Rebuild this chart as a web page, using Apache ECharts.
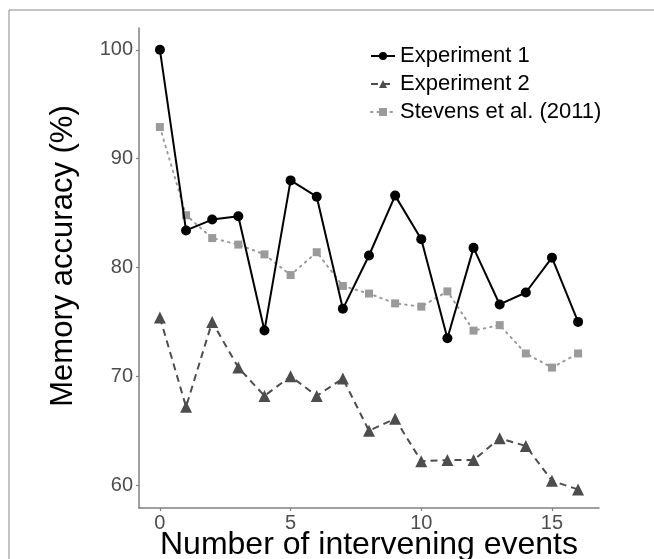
<!DOCTYPE html>
<html>
<head>
<meta charset="utf-8">
<script src="https://cdn.jsdelivr.net/npm/echarts@6/dist/echarts.min.js"></script>
<style>
html,body{margin:0;padding:0;background:#fff;}
#c{width:654px;height:559px;}
</style>
</head>
<body>
<div id="c"></div>
<script>
const events = [0,1,2,3,4,5,6,7,8,9,10,11,12,13,14,15,16];
const experiment1 = [100, 83.4, 84.4, 84.7, 74.2, 88.0, 86.5, 76.2, 81.1, 86.6, 82.6, 73.5, 81.8, 76.6, 77.7, 80.9, 75.0];
const experiment2 = [75.4, 67.2, 75.0, 70.8, 68.2, 70.0, 68.2, 69.8, 65.0, 66.1, 62.2, 62.3, 62.3, 64.3, 63.6, 60.4, 59.6];
const stevens = [92.9, 84.8, 82.7, 82.1, 81.2, 79.3, 81.4, 78.3, 77.6, 76.7, 76.4, 77.8, 74.2, 74.7, 72.1, 70.8, 72.1];
const xTicks = [0, 5, 10, 15];
const yTicks = [60, 70, 80, 90, 100];
const seriesNames = ['Experiment 1', 'Experiment 2', 'Stevens et al. (2011)'];

const pairs = arr => events.map((x, i) => [x, arr[i]]);
const font = '"Liberation Sans", Arial, Helvetica, sans-serif';

const chart = echarts.init(document.getElementById('c'), null, {renderer: 'canvas'});
chart.setOption({
  animation: false,
  backgroundColor: '#fff',
  textStyle: {fontFamily: font},
  graphic: [{
    type: 'rect', silent: true, z: -1,
    shape: {x: 9, y: 10, width: 700, height: 600},
    style: {fill: 'none', stroke: '#8a8a8a', lineWidth: 1}
  }],
  grid: {left: 139, right: 55, top: 28, bottom: 51, containLabel: false, outerBoundsMode: 'none'},
  legend: {
    orient: 'vertical', left: 365, top: 40,
    itemWidth: 24, itemHeight: 10, itemGap: 6,
    textStyle: {fontSize: 22, color: '#000', fontFamily: font, lineHeight: 22},
    data: seriesNames
  },
  xAxis: {
    type: 'value', min: -0.8, max: 16.8,
    name: 'Number of intervening events', nameLocation: 'middle', nameGap: 21,
    nameMoveOverlap: false,
    nameTextStyle: {fontSize: 32, color: '#000', fontFamily: font},
    axisLine: {show: true, onZero: false, lineStyle: {color: '#808080', width: 1.5}},
    axisTick: {show: true, length: 3, customValues: xTicks, lineStyle: {color: '#808080', width: 1.2}},
    axisLabel: {customValues: xTicks, fontSize: 20, color: '#4d4d4d', margin: 5, fontFamily: font},
    splitLine: {show: false}
  },
  yAxis: {
    type: 'value', min: 57.9, max: 102.0,
    name: 'Memory accuracy (%)', nameLocation: 'middle', nameGap: 60,
    nameTextStyle: {fontSize: 31, color: '#000', fontFamily: font, padding: [0, 0, 0, 24]},
    axisLine: {show: true, onZero: false, lineStyle: {color: '#808080', width: 1.5}},
    axisTick: {show: true, length: 3, customValues: yTicks, lineStyle: {color: '#808080', width: 1.2}},
    axisLabel: {customValues: yTicks, fontSize: 20, color: '#4d4d4d', margin: 6, fontFamily: font},
    splitLine: {show: false}
  },
  series: [
    {
      name: seriesNames[0], type: 'line', data: pairs(experiment1),
      symbol: 'circle', symbolSize: 10, z: 3,
      lineStyle: {color: '#000', width: 2, type: 'solid'},
      itemStyle: {color: '#000'}
    },
    {
      name: seriesNames[1], type: 'line', data: pairs(experiment2),
      symbol: 'triangle', symbolSize: 12, z: 2,
      lineStyle: {color: '#4d4d4d', width: 2, type: [7, 5]},
      itemStyle: {color: '#4d4d4d'}
    },
    {
      name: seriesNames[2], type: 'line', data: pairs(stevens),
      symbol: 'rect', symbolSize: 8, z: 1,
      lineStyle: {color: '#9a9a9a', width: 2, type: [1.5, 5], cap: 'round'},
      itemStyle: {color: '#9a9a9a'}
    }
  ]
});
</script>
</body>
</html>
